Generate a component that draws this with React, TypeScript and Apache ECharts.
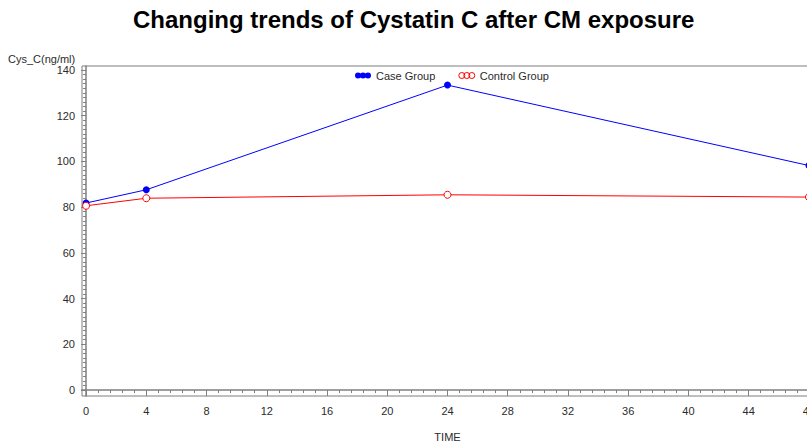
import React, { useEffect, useRef } from "react";
import * as echarts from "echarts";

const titleText = "Changing trends of Cystatin C after CM exposure";
const yAxisTitle = "Cys_C(ng/ml)";
const xAxisTitle = "TIME";
const seriesNames = ["Case Group", "Control Group"];
const times = [0, 4, 24, 48];
const caseValues = [81.8, 87.6, 133.4, 98.2];
const controlValues = [80.6, 83.9, 85.4, 84.4];
const xTicks = [0, 4, 8, 12, 16, 20, 24, 28, 32, 36, 40, 44, 48];
const yTicks = [0, 20, 40, 60, 80, 100, 120, 140];

const xMinor: number[] = [];
for (let i = 0; i < xTicks.length - 1; i++) {
  for (let k = 1; k < 5; k++) xMinor.push(+(xTicks[i] + k * 0.8).toFixed(2));
}
const yMinor: number[] = [];
for (let i = 0; i < yTicks.length - 1; i++) {
  for (let k = 1; k < 10; k++) yMinor.push(yTicks[i] + k * 2);
}

const FONT = "Liberation Sans, Arial, sans-serif";
const AXIS_COLOR = "#7f7f7f";
const LABEL_COLOR = "#2b2b2b";

const filledIcon =
  "path://M0,3a3,3 0 1,0 6,0a3,3 0 1,0 -6,0M5,3a3,3 0 1,0 6,0a3,3 0 1,0 -6,0M10,3a3,3 0 1,0 6,0a3,3 0 1,0 -6,0";
const hollowIcon = filledIcon;

export default function App() {
  const ref = useRef<HTMLDivElement>(null);
  useEffect(() => {
    document.body.style.margin = "0";
    const chart = echarts.init(ref.current!, null, { renderer: "svg" });
    const xMin = -0.27;
    const xMax = 48.27;
    const yMin = -2.625;
    const yMax = 141.75;
    chart.setOption({
      animation: false,
      backgroundColor: "#ffffff",
      title: {
        text: titleText,
        left: 133,
        top: 7,
        padding: 0,
        textStyle: { fontFamily: FONT, fontSize: 24, fontWeight: "bold", color: "#000" },
      },
      legend: {
        left: 355,
        top: 70,
        padding: 0,
        itemWidth: 16,
        itemHeight: 6,
        itemGap: 23,
        textStyle: { fontFamily: FONT, fontSize: 11, color: LABEL_COLOR },
        data: [
          { name: seriesNames[0], icon: filledIcon, itemStyle: { color: "#0000ff" } },
          {
            name: seriesNames[1],
            icon: hollowIcon,
            itemStyle: { color: "#ffffff", borderColor: "#ff0000", borderWidth: 1 },
          },
        ],
      },
      graphic: [
        {
          type: "text",
          left: 8,
          top: 53,
          style: { text: yAxisTitle, font: `11px ${FONT}`, fill: LABEL_COLOR },
        },
      ],
      grid: {
        left: 82,
        top: 66,
        right: -6,
        bottom: 45,
        containLabel: false,
        outerBoundsMode: "none",
        show: true,
        borderColor: AXIS_COLOR,
        borderWidth: 1,
      },
      xAxis: [
        {
          type: "value",
          min: xMin,
          max: xMax,
          name: xAxisTitle,
          nameLocation: "middle",
          nameGap: 35,
          nameTextStyle: { fontFamily: FONT, fontSize: 11, color: LABEL_COLOR },
          axisLine: { show: true, lineStyle: { color: AXIS_COLOR, width: 1.5 } },
          axisTick: { show: true, length: 6, customValues: xTicks, lineStyle: { color: AXIS_COLOR } },
          axisLabel: {
            customValues: xTicks,
            margin: 9,
            fontFamily: FONT,
            fontSize: 11,
            color: LABEL_COLOR,
          },
          splitLine: { show: false },
        },
        {
          type: "value",
          position: "bottom",
          min: xMin,
          max: xMax,
          axisLine: { show: false },
          axisTick: { show: true, length: 3, customValues: xMinor, lineStyle: { color: AXIS_COLOR } },
          axisLabel: { show: false },
          splitLine: { show: false },
        },
      ],
      yAxis: [
        {
          type: "value",
          min: yMin,
          max: yMax,
          axisLine: { show: true, lineStyle: { color: AXIS_COLOR, width: 1.5 } },
          axisTick: { show: true, length: 5, customValues: yTicks, lineStyle: { color: AXIS_COLOR } },
          axisLabel: {
            customValues: yTicks,
            margin: 7,
            fontFamily: FONT,
            fontSize: 11,
            color: LABEL_COLOR,
          },
          splitLine: { show: false },
        },
        {
          type: "value",
          position: "left",
          min: yMin,
          max: yMax,
          axisLine: { show: false },
          axisTick: { show: true, length: 3, customValues: yMinor, lineStyle: { color: AXIS_COLOR } },
          axisLabel: { show: false },
          splitLine: { show: false },
        },
      ],
      series: [
        {
          name: seriesNames[0],
          type: "line",
          xAxisIndex: 0,
          yAxisIndex: 0,
          data: times.map((t, i) => [t, caseValues[i]]),
          symbol: "circle",
          symbolSize: 7,
          lineStyle: { color: "#0000ff", width: 1 },
          itemStyle: { color: "#0000ff" },
        },
        {
          name: seriesNames[1],
          type: "line",
          xAxisIndex: 0,
          yAxisIndex: 0,
          data: times.map((t, i) => [t, controlValues[i]]),
          symbol: "circle",
          symbolSize: 7,
          lineStyle: { color: "#ff0000", width: 1 },
          itemStyle: { color: "#ffffff", borderColor: "#ff0000", borderWidth: 1 },
        },
      ],
    });
    return () => chart.dispose();
  }, []);
  return <div ref={ref} style={{ width: 807, height: 441 }} />;
}
